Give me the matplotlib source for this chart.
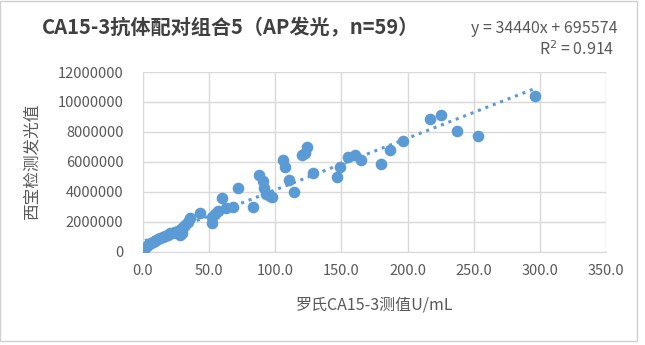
import matplotlib as mpl
mpl.use('Agg')
import matplotlib.pyplot as plt
from matplotlib.patches import Rectangle

plt.rcParams['font.family'] = ['Noto Sans CJK SC', 'DejaVu Sans']

# Roche CA15-3 (U/mL) vs in-house luminescence
roche = [1.5, 3, 4.5, 6, 7.5, 9, 11, 13, 15, 17, 19, 20.5, 23, 24, 26.5, 28, 29, 30,
         29.5, 35.5, 34, 43, 52, 52, 54.5, 57, 60, 63, 68, 72, 83, 88, 91, 91.5, 93,
         96, 97.5, 106, 107, 110, 114, 120, 124, 122.5, 128.5, 146.5, 149, 155, 160,
         165, 180, 187, 196.5, 217, 225, 237, 253, 296, 32]
xishi = [0.27, 0.4, 0.53, 0.6, 0.67, 0.73, 0.87, 0.93, 1.0, 1.07, 1.13, 1.27, 1.27,
         1.33, 1.4, 1.13, 1.53, 1.67, 1.27, 2.27, 2.0, 2.6, 1.93, 2.33, 2.53, 2.73,
         3.6, 2.93, 3.0, 4.27, 3.0, 5.13, 4.73, 4.27, 3.87, 3.73, 3.67, 6.13, 5.67,
         4.8, 4.0, 6.47, 7.0, 6.6, 5.27, 5.0, 5.67, 6.33, 6.47, 6.13, 5.87, 6.8, 7.4,
         8.87, 9.13, 8.07, 7.73, 10.4, 1.8]
xishi = [v * 1e6 for v in xishi]

slope = 34440
intercept = 695574
r2 = 0.914

x_ticks = [0, 50, 100, 150, 200, 250, 300, 350]
y_ticks = [0, 2000000, 4000000, 6000000, 8000000, 10000000, 12000000]

blue = '#5B9BD5'
grey_txt = '#595959'

fig = plt.figure(figsize=(6.45, 3.45), dpi=100)
fig.patches.append(Rectangle((0.0, 0.012), 0.987, 0.985, transform=fig.transFigure,
                             fill=False, edgecolor='#D0D0D0', linewidth=1))
ax = fig.add_axes([0.2217, 0.2696, 0.7178, 0.5217])

ax.scatter(roche, xishi, s=70, color=blue, zorder=3, linewidths=0)
xs = [min(roche), max(roche)]
ax.plot(xs, [slope * v + intercept for v in xs], color=blue, linestyle=(0, (1, 1.6)),
        linewidth=2.2, zorder=2)

ax.set_xlim(0, 350)
ax.set_ylim(0, 12000000)
ax.set_xticks(x_ticks)
ax.set_yticks(y_ticks)
ax.set_xticklabels(['%.1f' % v for v in x_ticks])
ax.set_yticklabels([str(v) for v in y_ticks])
ax.tick_params(length=0, labelsize=10.5, colors=grey_txt)
ax.tick_params(axis='y', pad=14)
ax.tick_params(axis='x', pad=9)
ax.grid(True, color='#D9D9D9', linewidth=1)
ax.set_axisbelow(True)
for s in ['top', 'right', 'left']:
    ax.spines[s].set_visible(False)
ax.spines['bottom'].set_color('#D9D9D9')

ax.set_xlabel('罗氏CA15-3测值U/mL', fontsize=11.5, color=grey_txt, labelpad=13)
ax.set_ylabel('西宝检测发光值', fontsize=12, color=grey_txt, labelpad=12)

fig.text(0.065, 0.918, 'CA15-3抗体配对组合5（AP发光，n=59）', fontsize=14.5,
         fontweight='bold', color='#404040', ha='left', va='center')
fig.text(0.958, 0.918, 'y = %dx + %d' % (slope, intercept), fontsize=11.5,
         color=grey_txt, ha='right', va='center')
fig.text(0.952, 0.855, 'R$^2$ = %.3f' % r2, fontsize=11.5,
         color=grey_txt, ha='right', va='center')

fig.savefig('out.png', dpi=100)
